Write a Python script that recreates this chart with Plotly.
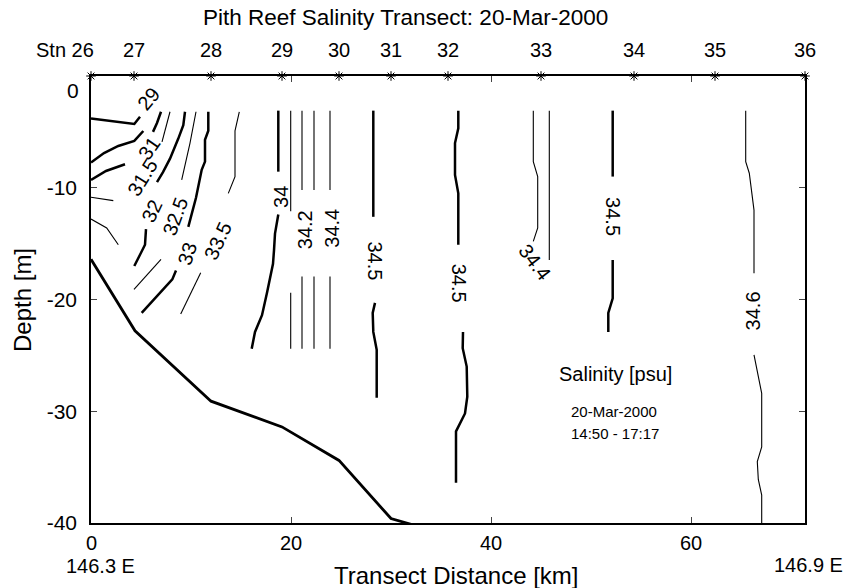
import plotly.graph_objects as go

# ---------------- data ----------------
station_names = ["Stn 26", "27", "28", "29", "30", "31", "32", "33", "34", "35", "36"]
station_km = [0.0, 4.3, 12.0, 19.1, 24.8, 30.0, 35.7, 45.0, 54.3, 62.4, 71.4]

bottom_km = [0.0, 4.4, 12.0, 19.1, 24.8, 30.0, 32.7]
bottom_depth = [-16.4, -22.8, -29.1, -31.4, -34.4, -39.6, -40.3]

# contour segments: each list of (km, depth) points
sal_29 = [[(0, -3.8), (4.33, -4.29), (4.9, -3.64)]]
sal_30 = [[(0, -7.75), (1.3, -6.9), (2.73, -6.26), (4.33, -5.81), (5.23, -4.92)]]
sal_31 = [[(0, -9.3), (1.5, -8.5), (3.4, -7.9)],
          [(6.2, -5.0), (6.6, -4.2), (7.0, -3.2)]]
sal_31_5 = [[(7.9, -3.2), (7.5, -4.5), (7.1, -5.9)],
            [(0, -10.85), (2.23, -11.15)]]
sal_32 = [[(9.4, -3.2), (9.23, -4.4), (8.73, -5.6), (8.23, -6.6), (7.9, -7.4), (7.2, -8.6), (6.6, -9.5)],
          [(5.5, -13.7), (5.4, -15.1), (4.9, -16.0), (4.33, -17.0)]]
sal_32_5 = [[(10.5, -3.2), (9.9, -6.0), (9.07, -9.3)],
            [(7.0, -16.4), (4.3, -19.1)],
            [(0, -12.8), (1.57, -13.6), (2.73, -15.1)]]
sal_33 = [[(11.73, -3.2), (11.73, -4.9), (11.4, -5.7), (11.4, -7.66), (11.07, -8.4), (10.5, -10.9), (9.73, -13.5)],
          [(8.5, -17.4), (8.13, -18.2), (5.07, -21.2)]]
sal_33_5 = [[(14.83, -3.2), (14.4, -4.9), (14.4, -9.0), (13.73, -10.5)],
            [(10.97, -17.6), (8.97, -21.3)]]
sal_34 = [[(18.73, -3.1), (18.73, -8.56)],
          [(18.73, -12.4), (18.4, -14.1), (18.3, -15.6), (18.2, -16.8), (17.6, -19.4),
           (17.1, -21.4), (16.4, -22.9), (16.07, -24.4)]]
sal_34_1 = [[(19.97, -3.1), (19.97, -12.1)], [(19.97, -19.4), (19.97, -24.4)]]
sal_34_2 = [[(21.1, -3.1), (21.1, -10.2)], [(21.1, -17.95), (21.1, -24.4)]]
sal_34_3 = [[(22.3, -3.1), (22.3, -10.2)], [(22.3, -17.95), (22.3, -24.4)]]
sal_34_4 = [[(23.9, -3.1), (23.9, -10.2)], [(23.9, -17.95), (23.9, -24.4)],
            [(44.23, -3.1), (44.23, -7.66), (44.67, -9.0), (44.67, -13.6), (44.23, -14.8)],
            [(45.83, -3.1), (45.83, -16.46)]]
sal_34_5 = [[(28.23, -3.1), (28.23, -12.6)],
            [(28.4, -20.3), (28.17, -21.2), (28.23, -22.9), (28.57, -24.5), (28.57, -28.8)],
            [(36.73, -3.1), (36.73, -4.68), (36.4, -6.0), (36.4, -8.86), (36.73, -10.5), (36.73, -15.1)],
            [(37.2, -22.9), (37.17, -24.36), (37.57, -26.0), (37.63, -28.7), (37.4, -30.2),
             (36.5, -31.8), (36.5, -36.4)],
            [(52.17, -3.1), (52.17, -9.0)],
            [(52.17, -16.46), (52.17, -19.9), (51.73, -21.2), (51.73, -22.9)]]
sal_34_6 = [[(65.47, -3.1), (65.47, -7.66), (65.83, -8.7), (66.3, -12.0), (66.3, -17.65)],
            [(66.3, -24.95), (66.73, -26.9), (67.07, -28.4), (67.07, -33.2), (66.63, -34.5),
             (66.73, -36.1), (67.07, -37.5), (67.07, -40.0)]]

thick_levels = [sal_29, sal_30, sal_31, sal_32, sal_33, sal_34, sal_34_5]
thin_levels = [sal_31_5, sal_32_5, sal_33_5, sal_34_1, sal_34_2, sal_34_3, sal_34_4, sal_34_6]

label_text = ["29", "31", "31.5", "32", "32.5", "33", "33.5", "34", "34.2", "34.4",
              "34.5", "34.5", "34.4", "34.5", "34.6"]
label_km = [5.75, 5.75, 5.1, 6.1, 8.4, 9.6, 12.7, 19.07, 21.4, 24.07, 28.4, 36.8, 44.4, 52.17, 66.17]
label_depth = [-2.1, -6.5, -9.1, -12.1, -12.6, -15.9, -14.8, -10.85, -13.8, -13.6, -16.5, -18.5, -16.6, -12.6, -21.0]
label_angle = [-50, -55, -58, -65, -70, -72, -65, -90, -90, -90, 90, 90, 53, 90, -90]

x_ticks = [0, 20, 40, 60]
x_tick_text = ["0", "20", "40", "60"]
y_ticks = [-40, -30, -20, -10, 0]

# ---------------- figure ----------------
FONT = "Liberation Sans, Arial, sans-serif"
L, R, T, B = 91, 42, 76, 65
W, H = 847, 588
PW, PH = W - L - R, H - T - B


def px(xpix):
    return (xpix - L) / PW


def py(ypix):
    return (H - B - ypix) / PH


fig = go.Figure()


def add_segments(levels, width):
    for lev in levels:
        for seg in lev:
            fig.add_trace(go.Scatter(
                x=[p[0] for p in seg], y=[p[1] for p in seg], mode="lines",
                line=dict(color="black", width=width), hoverinfo="skip", showlegend=False))


add_segments(thin_levels, 1.1)
add_segments(thick_levels, 2.5)

# seafloor
fig.add_trace(go.Scatter(x=bottom_km, y=bottom_depth, mode="lines",
                         line=dict(color="black", width=2.8), showlegend=False, hoverinfo="skip"))

# station stars along the surface
fig.add_trace(go.Scatter(x=station_km, y=[0] * len(station_km), mode="markers",
                         marker=dict(symbol="asterisk-open", size=8, color="black",
                                     line=dict(color="black", width=1)),
                         cliponaxis=False, showlegend=False, hoverinfo="skip"))


def txt(text, x, y, size, xref="paper", yref="paper", xanchor="center", angle=0):
    return dict(x=x, y=y, xref=xref, yref=yref, text=text, showarrow=False,
                xanchor=xanchor, yanchor="middle", textangle=angle,
                font=dict(size=size, family=FONT, color="black"))


ann = []
for t, x, y, a in zip(label_text, label_km, label_depth, label_angle):
    ann.append(txt(t, x, y, 20, xref="x", yref="y", angle=a))

for name, x in zip(station_names, station_km):
    if name.startswith("Stn"):
        ann.append(txt(name, px(96), py(50), 20, xanchor="right"))
    else:
        ann.append(txt(name, x, py(50), 20, xref="x"))

# x tick labels (placed through the x axis scale)
for v, t in zip(x_ticks, x_tick_text):
    ann.append(txt(t, v, py(543), 20, xref="x"))

ann += [
    txt("Pith Reef Salinity Transect: 20-Mar-2000", px(405), py(17), 22.5),
    txt("Transect Distance [km]", px(457), py(575), 24),
    txt("Depth [m]", px(22), py(300), 24, angle=-90),
    txt("146.3 E", px(100), py(566), 20),
    txt("146.9 E", px(808), py(565), 20),
    txt("0", px(81), py(90), 21, xanchor="right"),
    txt("Salinity [psu]", px(674), py(374), 20, xanchor="right"),
    txt("20-Mar-2000", px(569), py(411), 15, xanchor="left"),
    txt("14:50 - 17:17", px(569), py(433), 15, xanchor="left"),
]

fig.update_layout(
    width=W, height=H, margin=dict(l=L, r=R, t=T, b=B),
    paper_bgcolor="white", plot_bgcolor="white",
    font=dict(family=FONT, size=21, color="black"),
    showlegend=False, annotations=ann,
    xaxis=dict(range=[0, 71.4], tickvals=x_ticks, ticks="inside", ticklen=6, tickwidth=1,
               showline=True, linecolor="black", linewidth=1.5, mirror="ticks",
               showgrid=False, zeroline=False, showticklabels=False),
    yaxis=dict(range=[-40, 0], tickvals=y_ticks,
               ticktext=["-40", "-30", "-20", "-10", ""],
               ticks="inside", ticklen=6, tickwidth=1,
               showline=True, linecolor="black", linewidth=1.5, mirror="ticks",
               showgrid=False, zeroline=False, ticklabelstandoff=8,
               tickfont=dict(size=21, family=FONT)),
)

fig.write_html("out.html")
